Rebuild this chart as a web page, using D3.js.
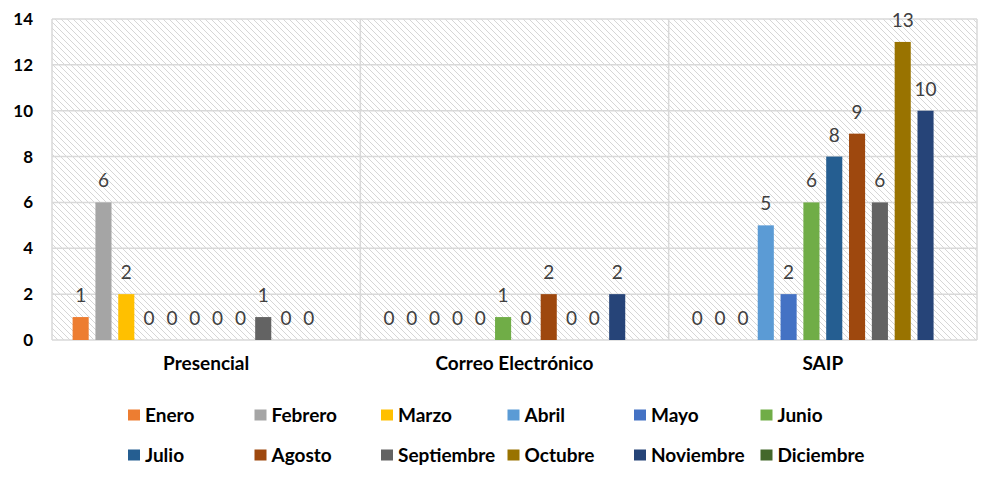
<!DOCTYPE html>
<html>
<head>
<meta charset="utf-8">
<script src="https://cdn.jsdelivr.net/npm/d3@7"></script>
<style>
  body { margin: 0; background: #fff; }
  svg text { font-family: Lato, "Open Sans", sans-serif; }
</style>
</head>
<body>
<div id="viz"></div>
<script>

/* solicitudes por medio de recepcion, barras agrupadas por mes */

const groups = ["Presencial", "Correo Electrónico", "SAIP"];
const months = ["Enero", "Febrero", "Marzo", "Abril", "Mayo", "Junio",
                "Julio", "Agosto", "Septiembre", "Octubre", "Noviembre", "Diciembre"];
const colors = ["#ED7D31", "#A5A5A5", "#FFC000", "#5B9BD5", "#4472C4", "#70AD47",
                "#255E91", "#9E480E", "#636363", "#997300", "#264478", "#43682B"];

// valores por medio (null = sin dato, no se etiqueta)
const presencial = [1, 6, 2, 0, 0, 0, 0, 0, 1, 0, 0, null];
const correo     = [0, 0, 0, 0, 0, 1, 0, 2, 0, 0, 2, null];
const saip       = [0, 0, 0, 5, 2, 6, 8, 9, 6, 13, 10, null];
const yTicks = [0, 2, 4, 6, 8, 10, 12, 14];

const seriesByGroup = [presencial, correo, saip];

const W = 990, H = 480;
const plot = { left: 52, right: 977, top: 19, bottom: 340 };

const svg = d3.select("#viz").append("svg")
    .attr("width", W)
    .attr("height", H);

// hatch pattern for plot background
const defs = svg.append("defs");
defs.append("pattern")
    .attr("id", "hatch")
    .attr("patternUnits", "userSpaceOnUse")
    .attr("width", 6)
    .attr("height", 6)
  .append("path")
    .attr("d", "M0,0 L6,6 M-1,5 L1,7 M5,-1 L7,1")
    .attr("stroke", "#d6d6d6")
    .attr("stroke-width", 1);

// scales
const x0 = d3.scaleBand(groups, [plot.left, plot.right]).padding(0);
const inner = 20.6;
const x1 = d3.scaleBand(months, [inner, x0.bandwidth() - inner]).paddingInner(0.295).paddingOuter(0);
const y = d3.scaleLinear([0, 14], [plot.bottom, plot.top]);

// background
svg.append("rect")
    .attr("x", plot.left)
    .attr("y", plot.top)
    .attr("width", plot.right - plot.left)
    .attr("height", plot.bottom - plot.top)
    .attr("fill", "url(#hatch)");

// horizontal gridlines
svg.append("g").selectAll("line")
  .data(yTicks)
  .join("line")
    .attr("x1", plot.left)
    .attr("x2", plot.right)
    .attr("y1", d => y(d))
    .attr("y2", d => y(d))
    .attr("stroke", "#d9d9d9")
    .attr("stroke-width", 1.5);

// vertical separators between groups + borders
const seps = groups.map(g => x0(g)).concat([plot.right]);
svg.append("g").selectAll("line")
  .data(seps)
  .join("line")
    .attr("x1", d => d)
    .attr("x2", d => d)
    .attr("y1", plot.top)
    .attr("y2", plot.bottom)
    .attr("stroke", "#d9d9d9")
    .attr("stroke-width", 1.5);

// y axis
const yAxis = svg.append("g")
    .attr("transform", `translate(${plot.left - 19},0)`)
    .call(d3.axisLeft(y).tickValues(yTicks).tickSize(0).tickPadding(0));
yAxis.select(".domain").remove();
yAxis.selectAll("text")
    .attr("font-size", 17)
    .attr("font-weight", "bold")
    .attr("fill", "#000");

// x axis (category names)
const xAxis = svg.append("g")
    .attr("transform", `translate(0,${plot.bottom})`)
    .call(d3.axisBottom(x0).tickSize(0).tickPadding(17));
xAxis.select(".domain").remove();
xAxis.selectAll("text")
    .attr("font-size", 19)
    .attr("font-weight", "bold")
    .attr("fill", "#000");

// bars and labels
const cells = [];
groups.forEach((g, gi) => {
    months.forEach((m, mi) => {
        cells.push({ group: g, month: m, value: seriesByGroup[gi][mi], color: colors[mi] });
    });
});

const gBars = svg.append("g");
gBars.selectAll("rect")
  .data(cells.filter(d => d.value))
  .join("rect")
    .attr("x", d => x0(d.group) + x1(d.month))
    .attr("y", d => y(d.value))
    .attr("width", x1.bandwidth())
    .attr("height", d => y(0) - y(d.value))
    .attr("fill", d => d.color);

gBars.selectAll("text")
  .data(cells.filter(d => d.value !== null))
  .join("text")
    .attr("x", d => x0(d.group) + x1(d.month) + x1.bandwidth() / 2)
    .attr("y", d => y(d.value) - 15)
    .attr("text-anchor", "middle")
    .attr("font-size", 19)
    .attr("fill", "#404040")
    .text(d => d.value);

// legend, 6 columns x 2 rows
const legend = svg.append("g");
const legItems = legend.selectAll("g")
  .data(months)
  .join("g")
    .attr("transform", (d, i) => `translate(${128 + (i % 6) * 126.5},${415 + Math.floor(i / 6) * 40})`);

legItems.append("rect")
    .attr("x", 0)
    .attr("y", -5.5)
    .attr("width", 12)
    .attr("height", 11)
    .attr("fill", (d, i) => colors[i]);

legItems.append("text")
    .attr("x", 17)
    .attr("y", 0)
    .attr("dy", "0.35em")
    .attr("font-size", 19)
    .attr("font-weight", "bold")
    .attr("fill", "#000")
    .text(d => d);

</script>
</body>
</html>
